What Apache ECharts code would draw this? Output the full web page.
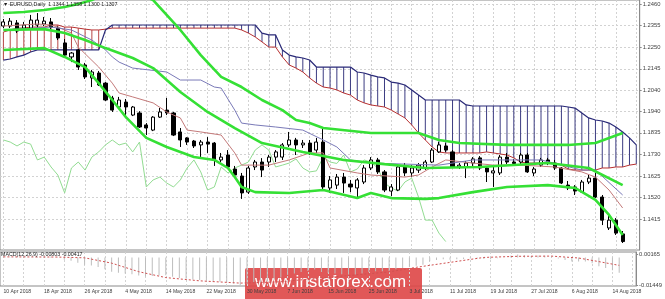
<!DOCTYPE html>
<html><head><meta charset="utf-8">
<script src="https://cdn.jsdelivr.net/npm/echarts@6/dist/echarts.min.js"></script>
<style>html,body{margin:0;padding:0;background:#fff}#c{width:665px;height:299px}</style>
</head><body><div id="c"></div>
<script>
const dates = ['10 Apr 2018','11 Apr 2018','12 Apr 2018','13 Apr 2018','16 Apr 2018','17 Apr 2018','18 Apr 2018','19 Apr 2018','20 Apr 2018','23 Apr 2018','24 Apr 2018','25 Apr 2018','26 Apr 2018','27 Apr 2018','30 Apr 2018',
'1 May 2018','2 May 2018','3 May 2018','4 May 2018','7 May 2018','8 May 2018','9 May 2018','10 May 2018','11 May 2018','14 May 2018','15 May 2018','16 May 2018','17 May 2018','18 May 2018','21 May 2018','22 May 2018','23 May 2018','24 May 2018','25 May 2018','28 May 2018','29 May 2018','30 May 2018','31 May 2018',
'1 Jun 2018','4 Jun 2018','5 Jun 2018','6 Jun 2018','7 Jun 2018','8 Jun 2018','11 Jun 2018','12 Jun 2018','13 Jun 2018','14 Jun 2018','15 Jun 2018','18 Jun 2018','19 Jun 2018','20 Jun 2018','21 Jun 2018','22 Jun 2018','25 Jun 2018','26 Jun 2018','27 Jun 2018','28 Jun 2018','29 Jun 2018',
'2 Jul 2018','3 Jul 2018','4 Jul 2018','5 Jul 2018','6 Jul 2018','9 Jul 2018','10 Jul 2018','11 Jul 2018','12 Jul 2018','13 Jul 2018','16 Jul 2018','17 Jul 2018','18 Jul 2018','19 Jul 2018','20 Jul 2018','23 Jul 2018','24 Jul 2018','25 Jul 2018','26 Jul 2018','27 Jul 2018','30 Jul 2018','31 Jul 2018',
'1 Aug 2018','2 Aug 2018','3 Aug 2018','6 Aug 2018','7 Aug 2018','8 Aug 2018','9 Aug 2018','10 Aug 2018','13 Aug 2018','14 Aug 2018','15 Aug 2018','16 Aug 2018','17 Aug 2018'];

const opens  = [1.2353,1.2353,1.2368,1.2343,1.2343,1.2358,1.2363,1.2373,1.2343,1.2271,1.2203,1.2237,1.2164,1.2101,1.2125,1.2076,1.2004,1.1960,1.1984,1.1921,1.1931,1.1873,1.1848,1.1911,1.1945,1.1931,1.1839,1.1810,1.1795,1.1776,1.1790,1.1785,1.1703,1.1727,1.1659,1.1625,1.1547,1.1669,1.1693,1.1693,1.1717,1.1717,1.1776,1.1800,1.1776,1.1785,1.1751,1.1790,1.1567,1.1581,1.1620,1.1586,1.1567,1.1596,1.1664,1.1703,1.1645,1.1552,1.1557,1.1669,1.1640,1.1654,1.1664,1.1693,1.1742,1.1771,1.1742,1.1669,1.1669,1.1688,1.1713,1.1664,1.1640,1.1640,1.1717,1.1693,1.1693,1.1727,1.1640,1.1678,1.1703,1.1688,1.1664,1.1581,1.1572,1.1547,1.1596,1.1615,1.1523,1.1373,1.1411,1.1344];
const highs  = [1.2387,1.2392,1.2382,1.2373,1.2407,1.2416,1.2397,1.2392,1.2353,1.2290,1.2227,1.2242,1.2174,1.2140,1.2135,1.2081,1.2014,1.2009,1.1999,1.1965,1.1940,1.1882,1.1916,1.1955,1.2004,1.1936,1.1858,1.1814,1.1800,1.1800,1.1814,1.1790,1.1737,1.1751,1.1674,1.1640,1.1674,1.1703,1.1712,1.1727,1.1751,1.1785,1.1839,1.1810,1.1800,1.1800,1.1810,1.1858,1.1625,1.1635,1.1640,1.1606,1.1615,1.1678,1.1717,1.1713,1.1654,1.1586,1.1678,1.1688,1.1678,1.1688,1.1703,1.1761,1.1790,1.1785,1.1751,1.1688,1.1698,1.1717,1.1722,1.1674,1.1669,1.1727,1.1737,1.1708,1.1737,1.1737,1.1669,1.1713,1.1713,1.1703,1.1669,1.1601,1.1581,1.1606,1.1630,1.1640,1.1533,1.1431,1.1421,1.1358];
const lows   = [1.2343,1.2343,1.2319,1.2334,1.2334,1.2348,1.2353,1.2338,1.2285,1.2203,1.2178,1.2140,1.2096,1.2057,1.2062,1.1989,1.1936,1.1950,1.1906,1.1916,1.1858,1.1824,1.1843,1.1907,1.1921,1.1819,1.1766,1.1776,1.1761,1.1717,1.1737,1.1674,1.1693,1.1659,1.1620,1.1514,1.1538,1.1654,1.1620,1.1669,1.1693,1.1703,1.1766,1.1727,1.1761,1.1727,1.1737,1.1562,1.1543,1.1562,1.1543,1.1547,1.1514,1.1586,1.1654,1.1635,1.1547,1.1528,1.1552,1.1625,1.1620,1.1640,1.1654,1.1688,1.1737,1.1742,1.1664,1.1659,1.1615,1.1674,1.1654,1.1596,1.1572,1.1630,1.1683,1.1674,1.1683,1.1640,1.1625,1.1669,1.1678,1.1654,1.1586,1.1557,1.1533,1.1543,1.1586,1.1518,1.1387,1.1363,1.1339,1.1300];
const closes = [1.2373,1.2377,1.2329,1.2358,1.2382,1.2382,1.2377,1.2348,1.2295,1.2212,1.2222,1.2154,1.2106,1.2130,1.2067,1.1994,1.1945,1.1994,1.1960,1.1960,1.1863,1.1858,1.1911,1.1936,1.1931,1.1824,1.1800,1.1790,1.1771,1.1790,1.1780,1.1703,1.1717,1.1669,1.1630,1.1543,1.1664,1.1693,1.1654,1.1717,1.1742,1.1776,1.1800,1.1776,1.1785,1.1742,1.1790,1.1572,1.1606,1.1620,1.1591,1.1572,1.1606,1.1664,1.1703,1.1645,1.1557,1.1572,1.1669,1.1640,1.1664,1.1678,1.1693,1.1751,1.1776,1.1751,1.1669,1.1678,1.1688,1.1708,1.1664,1.1645,1.1650,1.1717,1.1693,1.1686,1.1727,1.1645,1.1659,1.1703,1.1693,1.1664,1.1591,1.1567,1.1552,1.1596,1.1615,1.1523,1.1411,1.1411,1.1348,1.1307];

const spanA = [1.2324,1.2334,1.2343,1.2343,1.2348,1.2348,1.2348,1.2358,1.2358,1.2348,1.2348,1.2343,1.2338,1.2334,1.2334,1.2338,1.2343,1.2343,1.2343,1.2343,1.2343,1.2343,1.2343,1.2343,1.2343,1.2343,1.2343,1.2343,1.2343,1.2343,1.2343,1.2343,1.2343,1.2343,1.2343,1.2334,1.2319,1.2300,1.2276,1.2251,1.2251,1.2203,1.2164,1.2149,1.2130,1.2101,1.2076,1.2057,1.2052,1.2043,1.2028,1.2018,1.1994,1.1980,1.1970,1.1965,1.1960,1.1945,1.1926,1.1907,1.1873,1.1834,1.1800,1.1766,1.1742,1.1737,1.1737,1.1737,1.1737,1.1737,1.1737,1.1742,1.1737,1.1732,1.1727,1.1713,1.1693,1.1688,1.1688,1.1688,1.1688,1.1688,1.1678,1.1659,1.1654,1.1654,1.1654,1.1654,1.1664,1.1664,1.1669,1.1669,1.1678,1.1683];
const spanB = [1.2188,1.2193,1.2203,1.2212,1.2227,1.2237,1.2237,1.2237,1.2237,1.2237,1.2237,1.2237,1.2237,1.2237,1.2237,1.2334,1.2358,1.2358,1.2358,1.2358,1.2358,1.2358,1.2358,1.2358,1.2358,1.2358,1.2358,1.2358,1.2358,1.2358,1.2358,1.2358,1.2358,1.2358,1.2358,1.2358,1.2358,1.2358,1.2319,1.2310,1.2310,1.2237,1.2212,1.2203,1.2198,1.2188,1.2154,1.2154,1.2154,1.2154,1.2154,1.2154,1.2130,1.2125,1.2115,1.2106,1.2101,1.2081,1.2076,1.2067,1.2043,1.2018,1.1994,1.1994,1.1994,1.1994,1.1994,1.1994,1.1970,1.1965,1.1965,1.1965,1.1965,1.1965,1.1965,1.1965,1.1965,1.1965,1.1965,1.1965,1.1965,1.1965,1.1965,1.1960,1.1955,1.1931,1.1907,1.1897,1.1892,1.1882,1.1863,1.1839,1.1810,1.1776];

const tenkan = [[0,1.2353],[5,1.2363],[7,1.2358],[8,1.2348],[10,1.2319],[11,1.2251],[14,1.2154],[16,1.2076],[17,1.2028],[19,1.2009],[22,1.1980],[24,1.1936],[25,1.1921],[26,1.1907],[27,1.1848],[29,1.1839],[32,1.1824],[34,1.1737],[35,1.1678],[39,1.1678],[42,1.1703],[45,1.1737],[47,1.1737],[48,1.1664],[52,1.1640],[54,1.1630],[59,1.1620],[61,1.1630],[63,1.1669],[65,1.1703],[69,1.1688],[72,1.1678],[76,1.1678],[81,1.1669],[85,1.1645],[87,1.1620],[89,1.1557],[91,1.1470]];
const kijun = [[0,1.2334],[7,1.2348],[10,1.2334],[13,1.2285],[15,1.2237],[16,1.2203],[17,1.2178],[19,1.2149],[24,1.2130],[26,1.2091],[29,1.2091],[31,1.2057],[32,1.2052],[34,1.1945],[35,1.1882],[37,1.1873],[40,1.1863],[44,1.1848],[47,1.1800],[49,1.1766],[51,1.1703],[54,1.1688],[64,1.1678],[69,1.1703],[79,1.1703],[85,1.1654],[87,1.1654],[91,1.1533]];
const bbUpper = [[0,1.2416],[3,1.2421],[6,1.2431],[9,1.2445],[11,1.2460],[13,1.2479],[14,1.2494],[21,1.2494],[22,1.2479],[26,1.2334],[29,1.2212],[32,1.2106],[35,1.2057],[38,1.1994],[41,1.1945],[43,1.1897],[45,1.1882],[47,1.1858],[54,1.1834],[61,1.1834],[64,1.1800],[67,1.1785],[74,1.1776],[83,1.1776],[87,1.1785],[89,1.1810],[91,1.1834]];
const bbMiddle = [[0,1.2334],[6,1.2338],[9,1.2319],[12,1.2285],[15,1.2246],[19,1.2198],[22,1.2149],[26,1.2033],[30,1.1936],[34,1.1858],[38,1.1785],[44,1.1742],[50,1.1703],[56,1.1683],[62,1.1664],[70,1.1669],[80,1.1688],[86,1.1664],[91,1.1581]];
const bbLower = [[0,1.2237],[6,1.2246],[9,1.2203],[12,1.2154],[14,1.2076],[16,1.1994],[18,1.1911],[21,1.1810],[24,1.1766],[28,1.1717],[31,1.1703],[33,1.1664],[34,1.1620],[35,1.1572],[37,1.1547],[42,1.1543],[47,1.1557],[52,1.1518],[54,1.1543],[57,1.1518],[62,1.1514],[64,1.1518],[69,1.1547],[74,1.1572],[80,1.1581],[84,1.1567],[87,1.1509],[89,1.1436],[91,1.1339]];

const macdHist = [-0.0003,-0.0002,-0.0003,-0.0003,0.0000,0.0002,0.0004,0.0003,-0.0002,-0.0012,
 -0.0018,-0.0028,-0.0038,-0.0042,-0.0050,-0.0062,-0.0075,-0.0080,-0.0085,-0.0088,
 -0.0095,-0.0100,-0.0098,-0.0095,-0.0094,-0.0102,-0.0108,-0.0112,-0.0116,-0.0118,
 -0.0119,-0.0126,-0.0128,-0.0132,-0.0137,-0.0145,-0.0140,-0.0133,-0.0130,-0.0124,
 -0.0116,-0.0105,-0.0092,-0.0084,-0.0076,-0.0071,-0.0064,-0.0076,-0.0082,-0.0085,
 -0.0088,-0.0090,-0.0090,-0.0084,-0.0076,-0.0072,-0.0073,-0.0072,-0.0062,-0.0056,
 -0.0050,-0.0044,-0.0038,-0.0020,-0.0014,-0.0010,-0.0012,-0.0010,-0.0008,-0.0005,
 -0.0006,-0.0008,-0.0009,-0.0004,0.0000,0.0010,0.0016,0.0012,0.0008,0.0010,
 0.0009,0.0004,-0.0006,-0.0014,-0.0021,-0.0022,-0.0022,-0.0030,-0.0046,-0.0056,
 -0.0068,-0.0080];
const macdSignal = [[0,0.0003],[8,0.0002],[12,-0.0002],[16,-0.0030],[20,-0.0075],[24,-0.0106],[29,-0.0123],[35,-0.0135],[41,-0.0128],[47,-0.0108],[52,-0.0092],[57,-0.0076],[61,-0.0052],[66,-0.0026],[71,0.0000],[76,0.0006],[81,0.0007],[85,-0.0003],[88,-0.0022],[91,-0.00417]];

const priceTicks = [1.2460,1.2355,1.2250,1.2145,1.2040,1.1940,1.1835,1.1730,1.1625,1.1520,1.1415];
const macdTicks = [0.00165,-0.01449];
const headerText = '\u25BC EURUSD,Daily  1.1344 1.1358 1.1300 1.1307';
const macdText = 'MACD(12,26,9) -0.00803 -0.00417';

const chikouShift = 26;
const FONT = 'Liberation Sans, Arial, sans-serif';
const gridLine = {color:'#d2d2d2', type:[2,2], width:1};

const candles = opens.map((o,i)=>[o, closes[i], lows[i], highs[i]]);
const chikou = closes.slice(chikouShift).map((c,i)=>[i,c]);
const hatch = spanA.map((a,i)=>[i,a,spanB[i]]);

const chart = echarts.init(document.getElementById('c'), null, {renderer:'canvas'});
const lineS = (data, color, width, extra) => Object.assign({type:'line', data, xAxisIndex:0, yAxisIndex:0, symbol:'none', silent:true, lineStyle:{color, width}, z:3}, extra||{});

chart.setOption({
  animation:false,
  backgroundColor:'#ffffff',
  textStyle:{fontFamily:FONT},
  grid:[
    {left:-3.28, right:25.32, top:0, height:250, show:true, borderColor:'#8a8a8a', borderWidth:1},
    {left:-3.28, right:25.32, top:252, height:34, show:true, borderColor:'#8a8a8a', borderWidth:1}
  ],
  xAxis:[
    {type:'category', gridIndex:0, data:dates, boundaryGap:true, axisLine:{show:false}, axisTick:{show:false}, axisLabel:{show:false},
     splitLine:{show:true, interval:2, alignWithLabel:true, lineStyle:gridLine}},
    {type:'category', gridIndex:1, data:dates, boundaryGap:true, axisLine:{show:false}, axisTick:{show:false},
     axisLabel:{show:true, interval:5, align:'left', fontSize:5.1, color:'#404040', margin:3.5, fontFamily:FONT},
     splitLine:{show:true, interval:2, alignWithLabel:true, lineStyle:gridLine}}
  ],
  yAxis:[
    {type:'value', gridIndex:0, position:'right', min:1.12660, max:1.24794, scale:true,
     axisLine:{show:true, lineStyle:{color:'#8a8a8a'}}, axisTick:{show:true, length:2, customValues:priceTicks, lineStyle:{color:'#8a8a8a'}},
     axisLabel:{customValues:priceTicks, formatter:v=>v.toFixed(4), fontSize:5.8, color:'#404040', margin:3, fontFamily:FONT},
     splitLine:{show:true, lineStyle:gridLine}},
    {type:'value', gridIndex:1, position:'right', min:-0.01502, max:0.00286, scale:true,
     axisLine:{show:true, lineStyle:{color:'#8a8a8a'}}, axisTick:{show:true, length:2, customValues:macdTicks, lineStyle:{color:'#8a8a8a'}},
     axisLabel:{customValues:macdTicks, formatter:v=>v.toFixed(5), fontSize:5.8, color:'#404040', margin:3, fontFamily:FONT},
     splitLine:{show:false}}
  ],
  series:[
    {type:'custom', xAxisIndex:0, yAxisIndex:0, data:hatch, clip:true, silent:true, z:1,
     encode:{x:0, y:[1,2]},
     renderItem:function(params, api){
       const i = api.value(0), a = api.value(1), b = api.value(2);
       const p1 = api.coord([i,a]), p2 = api.coord([i,b]);
       return {type:'line', shape:{x1:p1[0], y1:p1[1], x2:p2[0], y2:p2[1]}, style:{stroke: a >= b ? '#b84545' : '#3c3c82', lineWidth:1}};
     }},
    lineS(spanA, '#b83030', 1, {z:2}),
    lineS(spanB, '#2a2a78', 1.2, {z:2}),
    lineS(chikou, '#92dc92', 1, {z:2}),
    {type:'candlestick', xAxisIndex:0, yAxisIndex:0, data:candles, barWidth:3.6, silent:true, z:3,
     itemStyle:{color:'#ffffff', color0:'#000000', borderColor:'#000000', borderColor0:'#000000', borderWidth:1},
     markLine:{symbol:'none', silent:true, lineStyle:{opacity:0}, data:[{yAxis:closes[closes.length-1]}],
       label:{position:'end', distance:2, formatter:p=>p.value.toFixed(4), backgroundColor:'#000', color:'#fff', fontSize:5.8, padding:[1,2,0,2], fontFamily:FONT}}},
    lineS(tenkan, '#c47a7a', 1, {z:4}),
    lineS(kijun, '#7a7ab8', 1, {z:4}),
    lineS(bbUpper, '#35e035', 2.6, {z:5}),
    lineS(bbMiddle, '#35e035', 2.6, {z:5}),
    lineS(bbLower, '#35e035', 2.6, {z:5}),
    {type:'bar', xAxisIndex:1, yAxisIndex:1, data:macdHist, barWidth:1, silent:true, itemStyle:{color:'#bdbdbd'}},
    {type:'line', xAxisIndex:1, yAxisIndex:1, data:macdSignal, symbol:'none', silent:true, lineStyle:{color:'#d05050', width:1, type:[2,2]}}
  ],
  graphic:[
    {type:'text', left:3, top:2, z:100, style:{text:headerText, font:'5.3px '+FONT, fill:'#202020'}},
    {type:'text', left:1, top:252.5, z:100, style:{text:macdText, font:'5.3px '+FONT, fill:'#202020'}},
    {type:'group', left:245, top:268, z:100, children:[
      {type:'rect', shape:{x:0, y:0, width:177, height:34, r:2}, style:{fill:'rgba(222,70,70,0.9)'}},
      {type:'text', x:10, y:6, style:{text:'www.instaforex.com', font:'17px '+FONT, fill:'#ffffff'}}
    ]}
  ]
});
</script>
</body></html>
